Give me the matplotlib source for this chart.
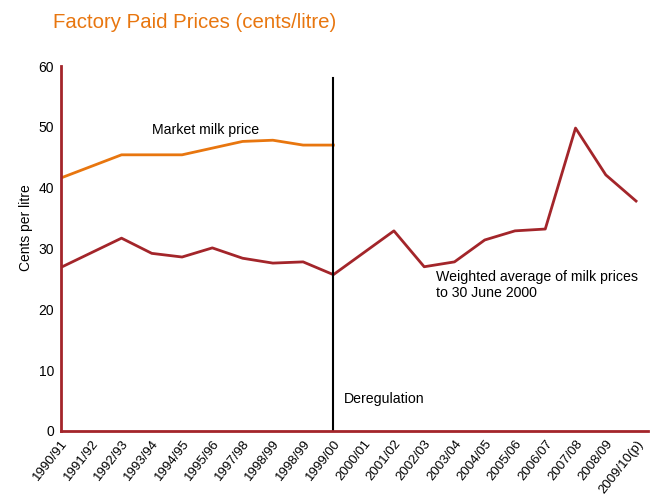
import matplotlib.pyplot as plt
import numpy as np

plt.rcParams['font.family'] = ['Liberation Sans', 'DejaVu Sans']

years = ['1990/91', '1991/92', '1992/93', '1993/94', '1994/95', '1995/96',
         '1997/98', '1998/99', '1998/99', '1999/00', '2000/01', '2001/02',
         '2002/03', '2003/04', '2004/05', '2005/06', '2006/07', '2007/08',
         '2008/09', '2009/10(p)']
market = [41.6, 43.5, 45.4, 45.4, 45.4, 46.5, 47.6, 47.8, 47.0, 47.0]
weighted = [26.9, 29.3, 31.7, 29.2, 28.6, 30.1, 28.4, 27.6, 27.8, 25.7,
            29.3, 32.9, 27.0, 27.8, 31.4, 32.9, 33.2, 49.8, 42.1, 37.8]

dark_red = '#A3252A'
orange = '#E8760F'

fig = plt.figure(figsize=(6.68, 4.97), dpi=100)
ax = fig.add_axes([0.0913, 0.1328, 0.879, 0.7344])

x = np.arange(len(years))
ax.plot(x[:len(market)], market, color=orange, lw=2)
ax.plot(x, weighted, color=dark_red, lw=2)
ax.plot([9, 9], [0, 58], color='black', lw=1.5)

ax.set_xlim(0, 19.4)
ax.set_ylim(0, 60)
ax.set_yticks(range(0, 61, 10))
ax.set_xticks(x)
ax.set_xticklabels(years, rotation=52, ha='right', rotation_mode='anchor')
ax.tick_params(axis='y', length=0, labelsize=10, pad=5)
ax.tick_params(axis='x', length=0, labelsize=9.5, pad=5)

for s in ['top', 'right']:
    ax.spines[s].set_visible(False)
for s in ['left', 'bottom']:
    ax.spines[s].set_color(dark_red)
    ax.spines[s].set_linewidth(2)

ax.set_ylabel('Cents per litre', fontsize=10)
ax.yaxis.set_label_coords(-0.047, 0.556)

ax.text(3.0, 49.5, 'Market milk price', fontsize=10.2, va='center')
ax.text(12.4, 24.0, 'Weighted average of milk prices\nto 30 June 2000',
        fontsize=10.2, va='center', linespacing=1.2)
ax.text(9.35, 5.2, 'Deregulation', fontsize=10.2, va='center')

fig.text(0.08, 0.955, 'Factory Paid Prices (cents/litre)', color=orange,
         fontsize=14.7, va='center')

fig.savefig('out.png', dpi=100)
